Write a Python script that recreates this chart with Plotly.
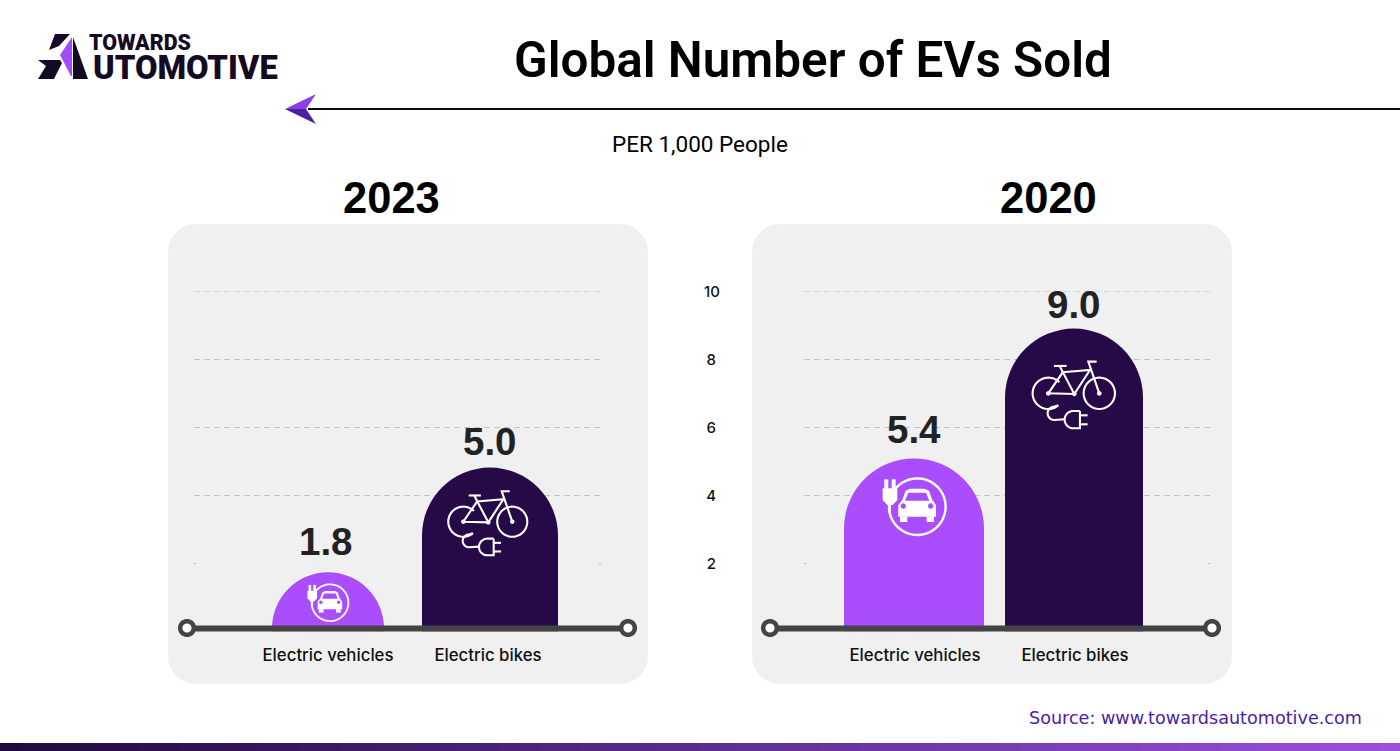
import math
import plotly.graph_objects as go

W, H = 1400, 751

TITLE = "Global Number of EVs Sold"
SUBTITLE = "PER 1,000 People"
SOURCE = "Source: www.towardsautomotive.com"
categories = ["Electric vehicles", "Electric bikes"]
labels_2023 = ["1.8", "5.0"]
labels_2020 = ["5.4", "9.0"]
# bar heights as drawn in the picture, read against the gridlines
heights_2023 = [1.74, 4.82]
heights_2020 = [5.09, 8.91]
axis_ticks = [2, 4, 6, 8, 10]
axis_tick_text = ["2\u00a0", "4\u00a0", "6\u00a0", "8\u00a0", "10"]

PURPLE = "#a94dff"
DARK = "#260a47"
PANEL = "#f0f0f0"
INK = "#222222"
GRID = "#c2c2c2"
HEAD = "Liberation Sans"

def fx(x): return x / W
def fy(y): return 1 - y / H

shapes = []
annots = []

def poly(points, close=True):
    s = "M " + " L ".join(f"{fx(x):.5f},{fy(y):.5f}" for x, y in points)
    return s + (" Z" if close else "")

def add_path(points, fill=None, line=None, lw=0, close=True, layer="above"):
    shapes.append(dict(type="path", xref="paper", yref="paper", layer=layer, path=poly(points, close),
                       fillcolor=fill if fill else "rgba(0,0,0,0)",
                       line=dict(color=line if line else "rgba(0,0,0,0)", width=lw)))

def arc(cx, cy, r, a0, a1, n=48):
    return [(cx + r * math.cos(math.radians(a0 + (a1 - a0) * i / n)),
             cy + r * math.sin(math.radians(a0 + (a1 - a0) * i / n))) for i in range(n + 1)]

def rrect(x0, y0, x1, y1, r):
    return (arc(x1 - r, y0 + r, r, -90, 0, 12) + arc(x1 - r, y1 - r, r, 0, 90, 12) +
            arc(x0 + r, y1 - r, r, 90, 180, 12) + arc(x0 + r, y0 + r, r, 180, 270, 12))

def add_text(x, y, text, size, color="#000000", family="Inter", weight=400, anchor="center"):
    annots.append(dict(xref="paper", yref="paper", x=fx(x), y=fy(y), text=text, showarrow=False,
                       xanchor=anchor, yanchor="middle", borderpad=0,
                       font=dict(family=family, size=size, color=color, weight=weight)))

# ---- panels
for x0 in (168, 752):
    add_path(rrect(x0, 224, x0 + 480, 684, 28), fill=PANEL, layer="below")

# ---- gridlines (10, 8, 6, 4 full, the line for 2 shows only its end marks)
for axis, x0, x1 in (("y", 194, 601), ("y2", 804, 1210)):
    for v in axis_ticks:
        if v == 2:
            for xa in (x0, x1 - 2):
                shapes.append(dict(type="line", xref="paper", yref=axis, layer="below",
                                   x0=fx(xa), x1=fx(xa + 2), y0=v, y1=v, line=dict(color=GRID, width=1)))
        else:
            shapes.append(dict(type="line", xref="paper", yref=axis, layer="below",
                               x0=fx(x0), x1=fx(x1), y0=v, y1=v,
                               line=dict(color=GRID, width=1, dash="6px,4px")))

# ---- baselines
for xa, xb in ((187, 628), (770, 1212)):
    shapes.append(dict(type="line", xref="paper", yref="paper", x0=fx(xa), x1=fx(xb), y0=fy(628.5), y1=fy(628.5),
                       line=dict(color="#444444", width=6)))
    for xc in (xa, xb):
        add_path(arc(xc, 628, 6.8, 0, 360), fill="#ffffff", line="#444444", lw=4.5)

# ---- header arrow
shapes.append(dict(type="line", xref="paper", yref="paper", x0=fx(308), x1=1, y0=fy(109), y1=fy(109),
                   line=dict(color="#0c0c0c", width=2)))
add_path([(285, 109), (316, 94), (306, 109)], fill="#8d3fe6")
add_path([(285, 109), (316, 124), (306, 109)], fill="#4a1fa0")

# ---- logo
LOGO = "#150a24"
add_path([(55, 34), (70, 34), (59, 46), (49, 50)], fill=LOGO)
add_path([(72, 37), (72, 76), (71, 76), (60, 55)], fill="#a14cf5")
add_path([(73, 37), (88, 79), (73, 79)], fill=LOGO)
add_path([(38, 60), (60, 60), (62, 63), (54, 79), (38, 79), (46, 66)], fill=LOGO)
add_text(88, 43, "TOWARDS", 21.4, color=LOGO, family="Roboto", weight=900, anchor="left")
add_text(92, 67.5, "UTOMOTIVE", 32.7, color=LOGO, family="Roboto", weight=900, anchor="left")

# ---- icons (drawn in a local sketch space, placed by origin + scale)
def bike_icon(ox, oy, s):
    T = lambda pts: [(ox + (x - 625) * s, oy + (y - 220) * s) for x, y in pts]
    lw = 2.1
    c = "#ffffff"
    add_path(T(arc(625, 220, 47, 50, 315)), line=c, lw=lw, close=False)
    add_path(T(arc(778, 220, 47, 0, 360)), line=c, lw=lw, close=False)
    for seg in ([(625, 220), (703, 222), (750, 150), (668, 157), (625, 220)],
                [(660, 140), (703, 222)],
                [(642, 138), (680, 138)],
                [(778, 220), (745, 125), (770, 125)]):
        add_path(T(seg), line=c, lw=lw, close=False)
    for hx, hy in ((625, 220), (703, 222), (778, 220)):
        add_path(T(arc(hx, hy, 7, 0, 360, 16)), fill=c)
    add_path(T([(655, 256)] + arc(643, 280, 20, -90, -270, 16) + [(675, 298)]), line=c, lw=lw, close=False)
    add_path(T([(720, 273), (700, 273)] + arc(700, 299, 26, -90, -270, 20) + [(720, 325), (720, 273)]), line=c, lw=lw, close=False)
    add_path(T([(720, 286), (743, 286)]), line=c, lw=lw, close=False)
    add_path(T([(720, 313), (743, 313)]), line=c, lw=lw, close=False)

def car_icon(ox, oy, s, bg=PURPLE):
    T = lambda pts: [(ox + (x - 232) * s, oy + (y - 560) * s) for x, y in pts]
    c = "#ffffff"
    lw = 2.4 * max(s * 3, 0.75)
    add_path(T(arc(232, 560, 85, 165, 590)), line=c, lw=lw, close=False)
    add_path(T([(150, 550), (148, 578)]), line=c, lw=lw, close=False)
    add_path(T([(128, 505), (172, 505), (172, 540), (158, 555), (142, 555), (128, 540)]), fill=c)
    add_path(T([(133, 478), (145, 478), (145, 506), (133, 506)]), fill=c)
    add_path(T([(155, 478), (167, 478), (167, 506), (155, 506)]), fill=c)
    add_path(T([(175, 555), (187, 540), (197, 512), (210, 506), (254, 506), (267, 512), (277, 540), (288, 555),
                (288, 590), (175, 590)]), fill=c)
    add_path(T([(180, 590), (202, 590), (202, 606), (180, 606)]), fill=c)
    add_path(T([(260, 590), (282, 590), (282, 606), (260, 606)]), fill=c)
    add_path(T([(195, 542), (205, 518), (258, 518), (268, 542)]), fill=bg)
    add_path(T(arc(190, 558, 8, 0, 360, 16)), fill=bg)
    add_path(T(arc(272, 558, 8, 0, 360, 16)), fill=bg)

bike_icon(463.3, 521.7, 0.96 / 3)
bike_icon(1048.3, 393.3, 1 / 3)
car_icon(330, 602.7, 0.65 / 3)
car_icon(917.3, 506.7, 1 / 3)

# ---- texts
add_text(812.5, 60, TITLE, 49.4, family="Roboto", weight=600)
add_text(700, 143.5, SUBTITLE, 22.5, family="Roboto", weight=400)
add_text(391, 198, "2023", 43.5, family=HEAD, weight=700)
add_text(1048.5, 198, "2020", 43.5, family=HEAD, weight=700)
add_text(1362.5, 718, SOURCE, 17.6, color="#4a22a8", family="DejaVu Sans", anchor="right")

# ---- footer gradient strip
N = 70
c0, c1 = (0x1f, 0x0a, 0x3d), (0x9c, 0x50, 0xdc)
for i in range(N):
    t = i / (N - 1)
    col = "rgb(%d,%d,%d)" % tuple(round(a + (b - a) * t) for a, b in zip(c0, c1))
    shapes.append(dict(type="rect", xref="paper", yref="paper", x0=i / N, x1=(i + 1) / N + 0.001,
                       y0=0, y1=8 / H, fillcolor=col, line=dict(width=0)))

fig = go.Figure()
bar_colors = [PURPLE, DARK]
x_pos = [0, 1]
UNIT_L, UNIT_R = 162, 160
fig.add_trace(go.Bar(x=x_pos, y=heights_2023, width=[112 / UNIT_L, 136 / UNIT_L], xaxis="x", yaxis="y",
                     marker=dict(color=bar_colors, cornerradius="50%", line=dict(width=0)),
                     showlegend=False, hoverinfo="skip"))
fig.add_trace(go.Bar(x=x_pos, y=heights_2020, width=[140 / UNIT_R, 138 / UNIT_R], xaxis="x2", yaxis="y2",
                     marker=dict(color=bar_colors, cornerradius="50%", line=dict(width=0)),
                     showlegend=False, hoverinfo="skip"))

# value labels sit above each bar
for xa, ya, hts, labs, gaps, shifts in (("x", "y", heights_2023, labels_2023, (7, 3), (-2, 0)),
                                        ("x2", "y2", heights_2020, labels_2020, (5, 1), (0, 0))):
    for i in range(2):
        annots.append(dict(xref=xa, yref=ya, x=x_pos[i], y=hts[i], text=labs[i], showarrow=False,
                           yanchor="bottom", yshift=gaps[i], xshift=shifts[i],
                           font=dict(family=HEAD, size=38.5, color=INK, weight=700)))

xcommon = dict(tickmode="array", ticktext=categories, showgrid=False, zeroline=False,
               showline=False, ticks="outside", ticklen=8, tickcolor="rgba(0,0,0,0)", automargin=False,
               tickfont=dict(family="Inter", size=16.8, color="#111111", weight=500))
ycommon = dict(range=[0, 10], domain=[1 - 631.5 / H, 1 - 291.5 / H], showgrid=False, zeroline=False, showline=False,
               automargin=False)

fig.update_layout(
    width=W, height=H, margin=dict(l=0, r=0, t=0, b=0, autoexpand=False),
    paper_bgcolor="#ffffff", plot_bgcolor="rgba(0,0,0,0)", showlegend=False,
    xaxis=dict(domain=[fx(194), fx(601)], range=[-134 / UNIT_L, 273 / UNIT_L], anchor="y",
               tickvals=[0, 160 / UNIT_L], **xcommon),
    xaxis2=dict(domain=[fx(804), fx(1210)], range=[-110 / UNIT_R, 296 / UNIT_R], anchor="y2",
                tickvals=[1 / UNIT_R, 1 + 1 / UNIT_R], **xcommon),
    yaxis=dict(anchor="x", showticklabels=False, ticks="", **ycommon),
    yaxis2=dict(anchor="free", position=fx(720), side="left", tickmode="array", tickvals=axis_ticks,
                ticktext=axis_tick_text, ticks="",
                tickfont=dict(family="Inter", size=15, color="#111111", weight=500), **ycommon),
    shapes=shapes, annotations=annots,
)

fig.write_html("out.html", config=dict(displayModeBar=False),
               post_script="document.body.style.margin='0';document.documentElement.style.overflow='hidden';")
